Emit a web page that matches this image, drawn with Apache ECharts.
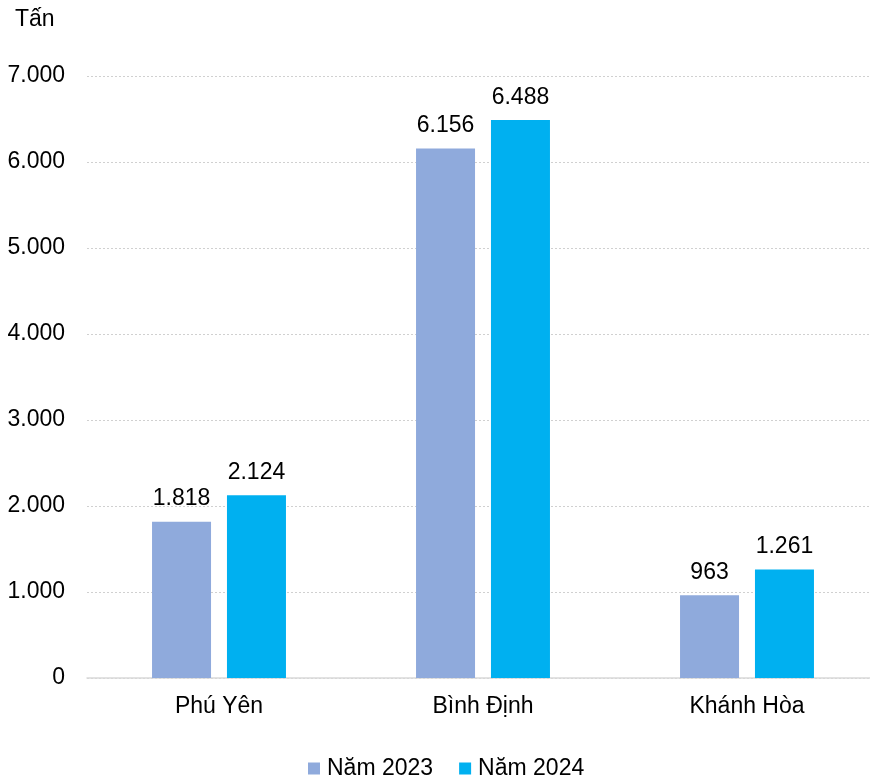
<!DOCTYPE html>
<html>
<head>
<meta charset="utf-8">
<script src="https://cdn.jsdelivr.net/npm/echarts@6/dist/echarts.min.js"></script>
<style>
html,body{margin:0;padding:0;background:#fff;overflow:hidden;width:870px;height:777px;}
#main{width:880px;height:777px;}
</style>
</head>
<body>
<div id="main"></div>
<script>
const categories = ['Phú Yên', 'Bình Định', 'Khánh Hòa'];
const seriesNames = ['Năm 2023', 'Năm 2024'];
const values2023 = [1818, 6156, 963];
const values2024 = [2124, 6488, 1261];
const yTicks = [0, 1000, 2000, 3000, 4000, 5000, 6000, 7000];
const unitLabel = 'Tấn';

function fmt(v) {
  return String(v).replace(/\B(?=(\d{3})+(?!\d))/g, '.');
}

const FONT = '"Liberation Sans", Arial, sans-serif';
const FS = 23;
const chart = echarts.init(document.getElementById('main'), null, {renderer: 'canvas'});
const labelCfg = {
  show: true, position: 'top', distance: 11,
  color: '#000', fontSize: FS, fontFamily: FONT,
  formatter: p => fmt(p.value)
};
chart.setOption({
  animation: false,
  textStyle: {fontFamily: FONT},
  graphic: [{
    type: 'text', left: 15, top: 8,
    style: {text: unitLabel, fontSize: FS, fontFamily: FONT, fill: '#000'}
  }],
  legend: {
    top: 752, left: 303,
    itemWidth: 12, itemHeight: 12, itemGap: 26,
    icon: 'rect',
    textStyle: {fontSize: FS, fontFamily: FONT, color: '#000', padding: [0, 0, 0, 2]},
    data: seriesNames
  },
  grid: {left: 87, top: 76, width: 792, height: 602, containLabel: false},
  xAxis: {
    type: 'category', data: categories,
    axisLine: {lineStyle: {color: '#D9D9D9', width: 1.5}},
    axisTick: {show: false},
    axisLabel: {color: '#000', fontSize: FS, fontFamily: FONT, margin: 17}
  },
  yAxis: {
    type: 'value', min: yTicks[0], max: yTicks[yTicks.length - 1], interval: 1000,
    axisLine: {show: false}, axisTick: {show: false},
    axisLabel: {color: '#000', fontSize: FS, fontFamily: FONT, margin: 22, formatter: v => fmt(v)},
    splitLine: {lineStyle: {color: '#D0D0D0', type: [2, 2], width: 1}}
  },
  series: [
    {name: seriesNames[0], type: 'bar', data: values2023, barWidth: 59, barGap: '27%',
     itemStyle: {color: '#8FAADC'}, label: labelCfg},
    {name: seriesNames[1], type: 'bar', data: values2024, barWidth: 59,
     itemStyle: {color: '#00B0F0'}, label: labelCfg}
  ]
});
</script>
</body>
</html>
